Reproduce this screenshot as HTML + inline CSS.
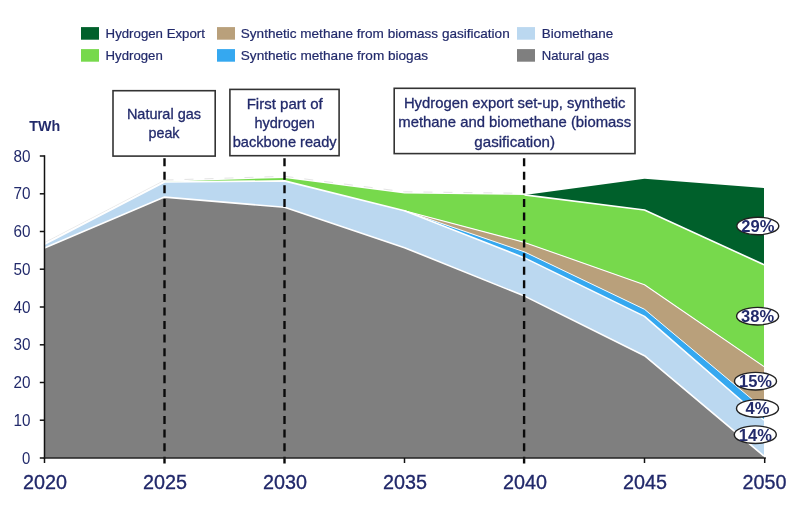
<!DOCTYPE html><html><head><meta charset="utf-8"><title>Gas demand outlook</title><style>html,body{margin:0;padding:0;background:#fff}svg{display:block}text{font-family:"Liberation Sans",Arial,sans-serif;fill:#222a6b}</style></head><body>
<svg width="792" height="511" viewBox="0 0 792 511">
<rect width="792" height="511" fill="#fff"/>
<polygon fill="#00602b" points="524.5,194.9 644.5,178.7 764.0,188.1 764.0,264.7 644.5,210.0 524.5,194.9"/>
<polygon fill="#77d94c" points="164.5,181.7 284.5,177.9 404.5,193.4 524.5,194.9 644.5,210.0 764.0,264.7 764.0,366.6 644.5,284.7 524.5,242.4 404.5,210.7 284.5,180.9 164.5,182.0"/>
<polygon fill="#b9a07b" points="404.5,210.7 524.5,242.4 644.5,284.7 764.0,366.6 764.0,409.3 644.5,309.3 524.5,251.9 404.5,210.7"/>
<polygon fill="#35a8f0" points="404.5,210.7 524.5,251.9 644.5,309.3 764.0,409.3 764.0,420.2 644.5,316.4 524.5,257.9 404.5,210.7"/>
<polygon fill="#bbd8f0" points="44.5,244.3 164.5,182.0 284.5,180.9 404.5,210.7 524.5,257.9 644.5,316.4 764.0,420.2 764.0,456.1 644.5,355.7 524.5,296.1 404.5,247.7 284.5,207.3 164.5,197.1 44.5,248.1"/>
<polygon fill="#7f7f7f" points="44.5,248.1 164.5,197.1 284.5,207.3 404.5,247.7 524.5,296.1 644.5,355.7 764.0,456.1 764.0,458.0 644.5,458.0 524.5,458.0 404.5,458.0 284.5,458.0 164.5,458.0 44.5,458.0"/>
<g transform="translate(0,-1.6)"><polyline fill="none" stroke="#ebebeb" stroke-width="1" stroke-linejoin="round"  points="44.5,244.3 164.5,182.0"/><polyline fill="none" stroke="#e4e4e4" stroke-width="1" stroke-linejoin="round" stroke-dasharray="9 11" points="164.5,181.7 284.5,177.9 404.5,193.4 524.5,194.9"/></g>
<polyline fill="none" stroke="#fff" stroke-width="1.6" stroke-linejoin="round"  points="524.5,194.9 644.5,210.0 764.0,264.7"/>
<polyline fill="none" stroke="#fff" stroke-width="1.1" stroke-linejoin="round"  points="404.5,210.7 524.5,242.4 644.5,284.7 764.0,366.6"/>
<polyline fill="none" stroke="#fff" stroke-width="0.9" stroke-linejoin="round"  points="404.5,210.7 524.5,251.9 644.5,309.3 764.0,409.3"/>
<polyline fill="none" stroke="#fff" stroke-width="1.6" stroke-linejoin="round"  points="44.5,244.3 164.5,182.0 284.5,180.9 404.5,210.7 524.5,257.9 644.5,316.4 764.0,420.2"/>
<polyline fill="none" stroke="#fff" stroke-width="1.6" stroke-linejoin="round"  points="44.5,248.1 164.5,197.1 284.5,207.3 404.5,247.7 524.5,296.1 644.5,355.7 764.0,456.1"/>
<line x1="164.5" y1="158.2" x2="164.5" y2="463.4" stroke="#0a0a0a" stroke-width="2.4" stroke-dasharray="8.0 5.57"/>
<line x1="284.5" y1="158.2" x2="284.5" y2="463.4" stroke="#0a0a0a" stroke-width="2.4" stroke-dasharray="8.0 5.57"/>
<line x1="524.1" y1="158.2" x2="524.1" y2="463.4" stroke="#0a0a0a" stroke-width="2.4" stroke-dasharray="8.0 5.57"/>
<line x1="44.5" y1="155.2" x2="44.5" y2="458.6" stroke="#111" stroke-width="1.5"/>
<line x1="43.8" y1="458" x2="765.9" y2="458" stroke="#222" stroke-width="1.5"/>
<line x1="39.8" y1="458.0" x2="44.5" y2="458.0" stroke="#111" stroke-width="1.5"/>
<text x="30.4" y="463.5" font-size="16.4" text-anchor="end" textLength="8.3" lengthAdjust="spacingAndGlyphs">0</text>
<line x1="39.8" y1="420.2" x2="44.5" y2="420.2" stroke="#111" stroke-width="1.5"/>
<text x="30.4" y="425.8" font-size="16.4" text-anchor="end" textLength="17.0" lengthAdjust="spacingAndGlyphs">10</text>
<line x1="39.8" y1="382.5" x2="44.5" y2="382.5" stroke="#111" stroke-width="1.5"/>
<text x="30.4" y="388.0" font-size="16.4" text-anchor="end" textLength="17.0" lengthAdjust="spacingAndGlyphs">20</text>
<line x1="39.8" y1="344.8" x2="44.5" y2="344.8" stroke="#111" stroke-width="1.5"/>
<text x="30.4" y="350.2" font-size="16.4" text-anchor="end" textLength="17.0" lengthAdjust="spacingAndGlyphs">30</text>
<line x1="39.8" y1="307.0" x2="44.5" y2="307.0" stroke="#111" stroke-width="1.5"/>
<text x="30.4" y="312.5" font-size="16.4" text-anchor="end" textLength="17.0" lengthAdjust="spacingAndGlyphs">40</text>
<line x1="39.8" y1="269.2" x2="44.5" y2="269.2" stroke="#111" stroke-width="1.5"/>
<text x="30.4" y="274.8" font-size="16.4" text-anchor="end" textLength="17.0" lengthAdjust="spacingAndGlyphs">50</text>
<line x1="39.8" y1="231.5" x2="44.5" y2="231.5" stroke="#111" stroke-width="1.5"/>
<text x="30.4" y="237.0" font-size="16.4" text-anchor="end" textLength="17.0" lengthAdjust="spacingAndGlyphs">60</text>
<line x1="39.8" y1="193.8" x2="44.5" y2="193.8" stroke="#111" stroke-width="1.5"/>
<text x="30.4" y="199.2" font-size="16.4" text-anchor="end" textLength="17.0" lengthAdjust="spacingAndGlyphs">70</text>
<line x1="39.8" y1="156.0" x2="44.5" y2="156.0" stroke="#111" stroke-width="1.5"/>
<text x="30.4" y="161.5" font-size="16.4" text-anchor="end" textLength="17.0" lengthAdjust="spacingAndGlyphs">80</text>
<line x1="44.5" y1="458" x2="44.5" y2="463" stroke="#111" stroke-width="1.5"/>
<text x="44.9" y="489.4" font-size="19.5" fill="#1c2166" stroke="#1c2166" stroke-width="0.3" text-anchor="middle" textLength="44" lengthAdjust="spacingAndGlyphs">2020</text>
<text x="164.9" y="489.4" font-size="19.5" fill="#1c2166" stroke="#1c2166" stroke-width="0.3" text-anchor="middle" textLength="44" lengthAdjust="spacingAndGlyphs">2025</text>
<text x="284.9" y="489.4" font-size="19.5" fill="#1c2166" stroke="#1c2166" stroke-width="0.3" text-anchor="middle" textLength="44" lengthAdjust="spacingAndGlyphs">2030</text>
<line x1="404.5" y1="458" x2="404.5" y2="463" stroke="#111" stroke-width="1.5"/>
<text x="404.9" y="489.4" font-size="19.5" fill="#1c2166" stroke="#1c2166" stroke-width="0.3" text-anchor="middle" textLength="44" lengthAdjust="spacingAndGlyphs">2035</text>
<text x="524.9" y="489.4" font-size="19.5" fill="#1c2166" stroke="#1c2166" stroke-width="0.3" text-anchor="middle" textLength="44" lengthAdjust="spacingAndGlyphs">2040</text>
<line x1="644.5" y1="458" x2="644.5" y2="463" stroke="#111" stroke-width="1.5"/>
<text x="644.9" y="489.4" font-size="19.5" fill="#1c2166" stroke="#1c2166" stroke-width="0.3" text-anchor="middle" textLength="44" lengthAdjust="spacingAndGlyphs">2045</text>
<line x1="764.7" y1="458" x2="764.7" y2="463" stroke="#111" stroke-width="1.5"/>
<text x="764.4" y="489.4" font-size="19.5" fill="#1c2166" stroke="#1c2166" stroke-width="0.3" text-anchor="middle" textLength="44" lengthAdjust="spacingAndGlyphs">2050</text>
<text x="29.3" y="130.8" font-size="14.3" font-weight="bold">TWh</text>
<rect x="81.0" y="27.1" width="18" height="12.6" fill="#00602b"/>
<text x="105.6" y="38.4" font-size="13" stroke="#222a6b" stroke-width="0.2" textLength="99.3" lengthAdjust="spacingAndGlyphs">Hydrogen Export</text>
<rect x="81.0" y="49.1" width="18" height="12.6" fill="#77d94c"/>
<text x="105.6" y="60.2" font-size="13" stroke="#222a6b" stroke-width="0.2" textLength="57.2" lengthAdjust="spacingAndGlyphs">Hydrogen</text>
<rect x="217.0" y="27.1" width="18" height="12.6" fill="#b9a07b"/>
<text x="240.8" y="38.4" font-size="13" stroke="#222a6b" stroke-width="0.2" textLength="268.9" lengthAdjust="spacingAndGlyphs">Synthetic methane from biomass gasification</text>
<rect x="217.0" y="49.1" width="18" height="12.6" fill="#35a8f0"/>
<text x="240.8" y="60.2" font-size="13" stroke="#222a6b" stroke-width="0.2" textLength="187.2" lengthAdjust="spacingAndGlyphs">Synthetic methane from biogas</text>
<rect x="517.0" y="27.1" width="18" height="12.6" fill="#bbd8f0"/>
<text x="541.8" y="38.4" font-size="13" stroke="#222a6b" stroke-width="0.2" textLength="71.4" lengthAdjust="spacingAndGlyphs">Biomethane</text>
<rect x="517.0" y="49.1" width="18" height="12.6" fill="#7f7f7f"/>
<text x="541.8" y="60.2" font-size="13" stroke="#222a6b" stroke-width="0.2" textLength="67.2" lengthAdjust="spacingAndGlyphs">Natural gas</text>
<rect x="113.0" y="90.7" width="102.2" height="65.4" fill="#fff" stroke="#333" stroke-width="1.6"/>
<text x="164.0" y="118.5" font-size="14.4" stroke="#222a6b" stroke-width="0.3" text-anchor="middle" textLength="74.2" lengthAdjust="spacingAndGlyphs">Natural gas</text>
<text x="164.0" y="137.8" font-size="14.4" stroke="#222a6b" stroke-width="0.3" text-anchor="middle" textLength="31.0" lengthAdjust="spacingAndGlyphs">peak</text>
<rect x="229.9" y="89.4" width="109.2" height="66.3" fill="#fff" stroke="#333" stroke-width="1.6"/>
<text x="284.7" y="108.5" font-size="14.4" stroke="#222a6b" stroke-width="0.3" text-anchor="middle" textLength="76.0" lengthAdjust="spacingAndGlyphs">First part of</text>
<text x="284.7" y="127.5" font-size="14.4" stroke="#222a6b" stroke-width="0.3" text-anchor="middle" textLength="60.5" lengthAdjust="spacingAndGlyphs">hydrogen</text>
<text x="284.7" y="147.0" font-size="14.4" stroke="#222a6b" stroke-width="0.3" text-anchor="middle" textLength="104.0" lengthAdjust="spacingAndGlyphs">backbone ready</text>
<rect x="394.2" y="88.3" width="240.8" height="65.3" fill="#fff" stroke="#333" stroke-width="1.6"/>
<text x="514.7" y="108.0" font-size="14.4" stroke="#222a6b" stroke-width="0.3" text-anchor="middle" textLength="221.6" lengthAdjust="spacingAndGlyphs">Hydrogen export set-up, synthetic</text>
<text x="514.7" y="127.4" font-size="14.4" stroke="#222a6b" stroke-width="0.3" text-anchor="middle" textLength="232.9" lengthAdjust="spacingAndGlyphs">methane and biomethane (biomass</text>
<text x="514.7" y="146.8" font-size="14.4" stroke="#222a6b" stroke-width="0.3" text-anchor="middle" textLength="80.8" lengthAdjust="spacingAndGlyphs">gasification)</text>
<ellipse cx="757.8" cy="226.0" rx="21" ry="8.8" fill="#fff" stroke="#222" stroke-width="1.4"/>
<text x="757.8" y="231.8" font-size="16.5" font-weight="bold" text-anchor="middle" fill="#17196a">29%</text>
<ellipse cx="757.6" cy="316.2" rx="21" ry="8.8" fill="#fff" stroke="#222" stroke-width="1.4"/>
<text x="757.6" y="322.0" font-size="16.5" font-weight="bold" text-anchor="middle" fill="#17196a">38%</text>
<ellipse cx="755.5" cy="381.2" rx="21" ry="8.8" fill="#fff" stroke="#222" stroke-width="1.4"/>
<text x="755.5" y="387.0" font-size="16.5" font-weight="bold" text-anchor="middle" fill="#17196a">15%</text>
<ellipse cx="757.5" cy="408.4" rx="21" ry="8.8" fill="#fff" stroke="#222" stroke-width="1.4"/>
<text x="757.5" y="414.2" font-size="16.5" font-weight="bold" text-anchor="middle" fill="#17196a">4%</text>
<ellipse cx="755.3" cy="434.7" rx="21" ry="8.8" fill="#fff" stroke="#222" stroke-width="1.4"/>
<text x="755.3" y="440.5" font-size="16.5" font-weight="bold" text-anchor="middle" fill="#17196a">14%</text>
</svg></body></html>
